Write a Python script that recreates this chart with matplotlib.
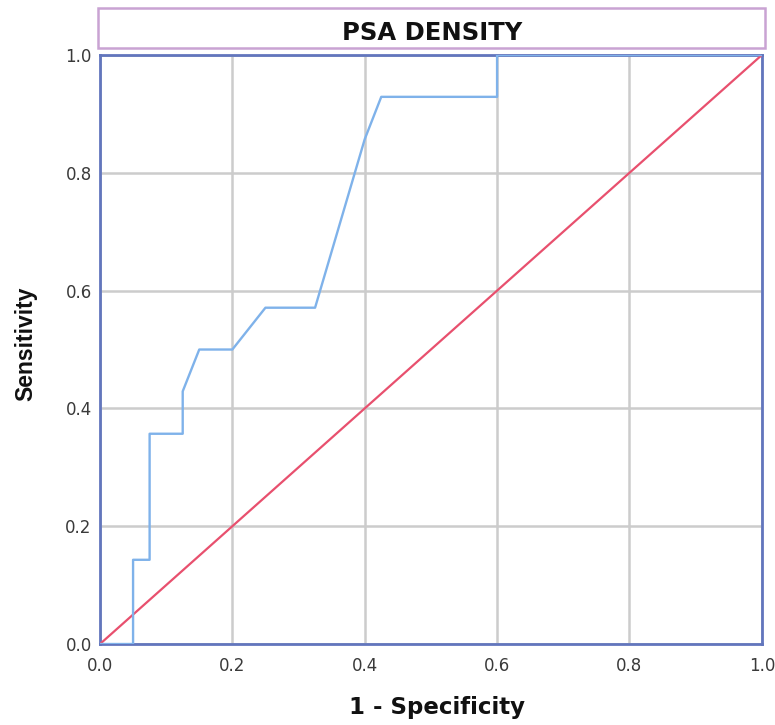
import matplotlib
matplotlib.use("Agg")
import matplotlib.pyplot as plt
from matplotlib.patches import Rectangle

# ROC curve points
fpr = [0.0, 0.05, 0.05, 0.075, 0.075, 0.125, 0.125, 0.15, 0.2, 0.25,
       0.325, 0.4, 0.425, 0.6, 0.6, 1.0]
tpr = [0.0, 0.0, 0.143, 0.143, 0.357, 0.357, 0.429, 0.5, 0.5, 0.571,
       0.571, 0.857, 0.929, 0.929, 1.0, 1.0]
ref_x = [0.0, 1.0]
ref_y = [0.0, 1.0]
ticks = [0.0, 0.2, 0.4, 0.6, 0.8, 1.0]
tick_labels = ["0.0", "0.2", "0.4", "0.6", "0.8", "1.0"]

plt.rcParams['font.family'] = ['DejaVu Sans']

fig = plt.figure(figsize=(7.75, 7.25), dpi=100)
ax = fig.add_axes([0.129, 0.1117, 0.854, 0.8124])

ax.plot(ref_x, ref_y, color="#e8506e", lw=1.6, zorder=3)
ax.plot(fpr, tpr, color="#7fb2ea", lw=1.7, zorder=4)

ax.set_xlim(0, 1)
ax.set_ylim(0, 1)
ax.set_xticks(ticks)
ax.set_yticks(ticks)
ax.set_xticklabels(tick_labels)
ax.set_yticklabels(tick_labels)
ax.tick_params(length=0, labelsize=12, colors="#3a3a3a")
ax.tick_params(axis="y", pad=6)
ax.tick_params(axis="x", pad=9)
ax.grid(True, color="#cccccc", lw=1.8)
ax.set_axisbelow(True)
for s in ax.spines.values():
    s.set_color("#6276bd")
    s.set_linewidth(2)

fig.text(0.5635, 1 - 714 / 725, "1 - Specificity", ha="center", va="baseline",
         fontsize=16.5, fontweight="bold", color="#111111")
fig.text(26 / 775, 1 - 344 / 725, "Sensitivity", ha="center", va="center",
         rotation=90, fontsize=16.5, fontweight="bold", color="#111111",
         family="Liberation Sans")

# title box
fig.patches.append(Rectangle((0.1265, 0.934), 0.861, 0.055, transform=fig.transFigure,
                             facecolor="white", edgecolor="#c9a3d3", lw=1.8))
fig.text(432 / 775, 1 - 40 / 725, "PSA DENSITY", ha="center", va="baseline",
         fontsize=17.5, fontweight="bold", color="#111111")

fig.savefig("out.png", dpi=100)
